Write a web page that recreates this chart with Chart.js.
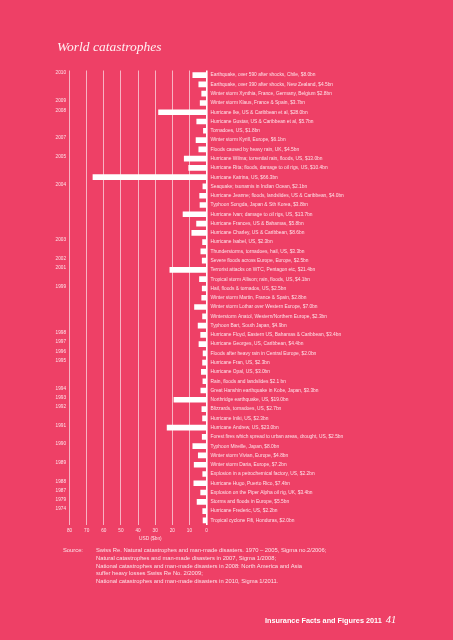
<!DOCTYPE html>
<html>
<head>
<meta charset="utf-8">
<title>World catastrophes</title>
<script src="https://cdn.jsdelivr.net/npm/chart.js@4.4.1/dist/chart.umd.min.js"></script>
<style>
    html, body { margin: 0; padding: 0; background: #ee4066; }
    #page { position: relative; width: 453px; height: 640px; overflow: hidden; background: #ee4066; }
    #chart-box { position: absolute; left: 0; top: 0; width: 453px; height: 640px; }
    .txt { position: absolute; white-space: nowrap; color: #fde2e8; font-family: "Liberation Sans", Arial, sans-serif; }
    #titulo { left: 57px; top: 39.5px; font-family: "Liberation Serif", serif; font-style: italic; font-size: 13.5px; line-height: 1; color: #fff0f3; }
    #eixo-x { left: 139px; top: 536px; font-size: 4.8px; line-height: 6px; }
    #fonte-rotulo { left: 63px; top: 547px; font-size: 5.8px; line-height: 7.75px; }
    #fonte { left: 96px; top: 547px; font-size: 5.8px; line-height: 7.75px; }
    #rodape { left: 265px; top: 613px; font-size: 7.3px; font-weight: bold; line-height: 14px; color: #ffffff; }
    #rodape span { font-family: "Liberation Serif", serif; font-style: italic; font-weight: normal; font-size: 10.5px; margin-left: 4px; }
</style>
</head>
<body>
<div id="page">
    <div id="chart-box"><canvas id="canvas_grafico"></canvas></div>
    <div class="txt" id="titulo">World catastrophes</div>
    <div class="txt" id="eixo-x">USD ($bn)</div>
    <div class="txt" id="fonte-rotulo">Source:</div>
    <div class="txt" id="fonte">Swiss Re. Natural catastrophes and man-made disasters. 1970 – 2005, Sigma no.2/2006;<br>Natural catastrophes and man-made disasters in 2007, Sigma 1/2008;<br>National catastrophes and man-made disasters in 2008: North America and Asia<br>suffer heavy losses Swiss Re No. 2/2009;<br>National catastrophes and man-made disasters in 2010, Sigma 1/2011.</div>
    <div class="txt" id="rodape">Insurance Facts and Figures 2011<span>41</span></div>
</div>
<script>
// eventos (de cima para baixo) e perdas em USD bn
const eventos = [
    'Earthquake, over 590 after shocks, Chile, $8.0bn',
    'Earthquake, over 390 after shocks, New Zealand, $4.5bn',
    'Winter storm Xynthia, France, Germany, Belgium $2.8bn',
    'Winter storm Klaus, France & Spain, $3.7bn',
    'Hurricane Ike, US & Caribbean et al, $28.0bn',
    'Hurricane Gustav, US & Caribbean et al, $5.7bn',
    'Tornadoes, US, $1.8bn',
    'Winter storm Kyrill, Europe, $6.1bn',
    'Floods caused by heavy rain, UK, $4.5bn',
    'Hurricane Wilma; torrential rain, floods, US, $13.0bn',
    'Hurricane Rita; floods, damage to oil rigs, US, $10.4bn',
    'Hurricane Katrina, US, $66.3bn',
    'Seaquake; tsunamis in Indian Ocean, $2.1bn',
    'Hurricane Jeanne; floods, landslides, US & Caribbean, $4.0bn',
    'Typhoon Songda, Japan & Sth Korea, $3.8bn',
    'Hurricane Ivan; damage to oil rigs, US, $13.7bn',
    'Hurricane Frances, US & Bahamas, $5.8bn',
    'Hurricane Charley, US & Caribbean, $8.6bn',
    'Hurricane Isabel, US, $2.3bn',
    'Thunderstorms, tornadoes, hail, US, $3.3bn',
    'Severe floods across Europe, Europe, $2.5bn',
    'Terrorist attacks on WTC, Pentagon etc, $21.4bn',
    'Tropical storm Allison; rain, floods, US, $4.1bn',
    'Hail, floods & tornados, US, $2.5bn',
    'Winter storm Martin, France & Spain, $2.8bn',
    'Winter storm Lothar over Western Europe, $7.0bn',
    'Winterstorm Anatol, Western/Northern Europe, $2.3bn',
    'Typhoon Bart, South Japan, $4.9bn',
    'Hurricane Floyd, Eastern US, Bahamas & Caribbean, $3.4bn',
    'Hurricane Georges, US, Caribbean, $4.4bn',
    'Floods after heavy rain in Central Europe, $2.0bn',
    'Hurricane Fran, US, $2.3bn',
    'Hurricane Opal, US, $3.0bn',
    'Rain, floods and landslides $2.1 bn',
    'Great Hanshin earthquake in Kobe, Japan, $3.3bn',
    'Northridge earthquake, US, $19.0bn',
    'Blizzards, tornadoes, US, $2.7bn',
    'Hurricane Iniki, US, $2.3bn',
    'Hurricane Andrew, US, $23.0bn',
    'Forest fires which spread to urban areas, drought, US, $2.5bn',
    'Typhoon Mireille, Japan, $8.0bn',
    'Winter storm Vivian, Europe, $4.8bn',
    'Winter storm Daria, Europe, $7.2bn',
    'Explosion in a petrochemical factory, US, $2.2bn',
    'Hurricane Hugo, Puerto Rico, $7.4bn',
    'Explosion on the Piper Alpha oil rig, UK, $3.4bn',
    'Storms and floods in Europe, $5.5bn',
    'Hurricane Frederic, US, $2.2bn',
    'Tropical cyclone Fifi, Honduras, $2.0bn'
];

const perdas = [
    8.0, 4.5, 2.8, 3.7, 28.0, 5.7, 1.8, 6.1, 4.5, 13.0,
    10.4, 66.3, 2.1, 4.0, 3.8, 13.7, 5.8, 8.6, 2.3, 3.3,
    2.5, 21.4, 4.1, 2.5, 2.8, 7.0, 2.3, 4.9, 3.4, 4.4,
    2.0, 2.3, 3.0, 2.1, 3.3, 19.0, 2.7, 2.3, 23.0, 2.5,
    8.0, 4.8, 7.2, 2.2, 7.4, 3.4, 5.5, 2.2, 2.0
];

// ano mostrado ao lado de cada linha (vazio = sem rótulo)
const anos = [
    '2010', '', '', '2009', '2008', '', '', '2007', '', '2005',
    '', '', '2004', '', '', '', '', '', '2003', '',
    '2002', '2001', '', '1999', '', '', '', '', '1998', '1997',
    '1996', '1995', '', '', '1994', '1993', '1992', '', '1991', '',
    '1990', '', '1989', '', '1988', '1987', '1979', '1974', ''
];

const ticksX = [80, 70, 60, 50, 40, 30, 20, 10, 0];

const corTexto = '#fde2e8';
const fonteEixo = { family: '"Liberation Sans", Arial, sans-serif', size: 4.7 };
const fonteEventos = { family: '"Liberation Sans", Arial, sans-serif', size: 4.85 };

const ctx = document.getElementById('canvas_grafico').getContext('2d');
new Chart(ctx, {
    type: 'bar',
    data: {
        labels: eventos,
        datasets: [{
            label: 'USD ($bn)',
            data: perdas,
            backgroundColor: '#ffffff',
            borderWidth: 0,
            barThickness: 5,
            xAxisID: 'x',
            yAxisID: 'y'
        }]
    },
    options: {
        indexAxis: 'y',
        responsive: true,
        maintainAspectRatio: false,
        animation: false,
        layout: {
            padding: { left: 0, right: 0, top: 70.5, bottom: 0 }
        },
        scales: {
            x: {
                type: 'linear',
                reverse: true,
                min: 0,
                max: 80,
                afterBuildTicks: function(scale) {
                    scale.ticks = ticksX.map(v => ({ value: v }));
                },
                afterFit: function(scale) { scale.height = 115; },
                border: { display: false },
                grid: {
                    drawTicks: false,
                    color: c => (c.tick && c.tick.value === 0) ? '#ffffff' : 'rgba(255, 255, 255, 0.6)',
                    lineWidth: c => (c.tick && c.tick.value === 0) ? 1.6 : 1
                },
                ticks: {
                    color: corTexto,
                    font: fonteEixo,
                    padding: 3,
                    maxRotation: 0
                }
            },
            y: {
                type: 'category',
                position: 'left',
                labels: anos,
                offset: true,
                afterFit: function(scale) { scale.width = 69.5; },
                border: { display: false },
                grid: { display: false, drawTicks: false },
                ticks: {
                    color: corTexto,
                    font: fonteEixo,
                    padding: 3.5,
                    autoSkip: false,
                    labelOffset: -2
                }
            },
            y2: {
                type: 'category',
                position: 'right',
                labels: eventos,
                offset: true,
                afterFit: function(scale) { scale.width = 246.5; },
                border: { display: false },
                grid: { display: false, drawTicks: false },
                ticks: {
                    color: corTexto,
                    font: fonteEventos,
                    padding: 4,
                    autoSkip: false
                }
            }
        },
        plugins: {
            legend: { display: false },
            title: { display: false }
        }
    }
});
</script>
</body>
</html>
